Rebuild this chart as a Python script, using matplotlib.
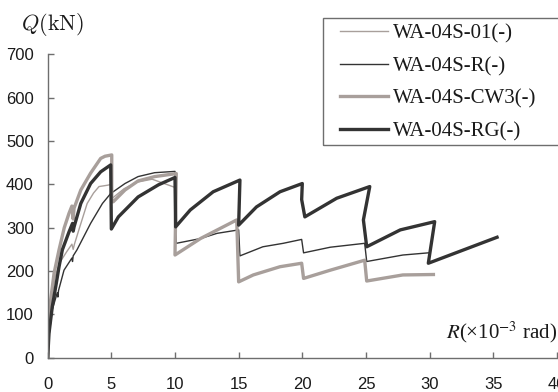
import numpy as np
import matplotlib
matplotlib.use("Agg")
import matplotlib.pyplot as plt
from matplotlib.patches import Rectangle

plt.rcParams["font.family"] = ["Liberation Sans", "DejaVu Sans"]

# story drift angle R (x10^-3 rad) and shear force Q (kN), envelope per cycle
r_01 = [0, 0.1, 0.3, 0.6, 1.0, 1.5, 1.9, 2.0, 2.1, 2.5, 3.1, 3.6, 4.03, 4.68, 5.0,
        5.07, 6.0, 7.0, 8.2, 10.0]
q_01 = [0, 70, 140, 190, 222, 245, 262, 250, 262, 300, 356, 380, 395, 398, 400,
        368, 390, 405, 412, 393]

r_R = [0, 0.1, 0.35, 0.75, 0.8, 0.85, 1.28, 1.9, 1.95, 2.0, 2.3, 3.37, 4.3, 4.95,
       6.07, 7.1, 8.4, 10.0, 10.1, 12.0, 13.3, 15.0, 15.1, 16.9, 18.5, 19.95,
       20.1, 22.2, 24.9, 25.06, 27.9, 29.9]
q_R = [0, 50, 110, 150, 140, 155, 202, 230, 222, 235, 249, 310, 356, 379,
       402, 418, 427, 430, 264, 275, 287, 295, 235, 256, 264, 273,
       242, 255, 264, 222, 237, 242]

r_CW3 = [0, 0.05, 0.23, 0.5, 0.89, 1.3, 1.67, 1.9, 2.0, 2.07, 2.6, 3.37, 4.16,
         4.5, 5.03, 5.03, 5.15, 6.07, 7.1, 8.4, 10.1, 10.0, 12.0, 14.85, 15.0,
         16.15, 18.25, 19.95, 20.1, 22.2, 24.9, 25.06, 27.9, 30.3]
q_CW3 = [0, 50, 133, 195, 249, 300, 333, 350, 320, 345, 387, 426, 460,
         465, 468, 360, 360, 387, 408, 418, 425, 237, 275, 318, 175,
         191, 210, 218, 183, 202, 225, 177, 191, 192]

r_RG = [0, 0.1, 0.36, 0.63, 0.89, 1.15, 1.67, 1.95, 2.0, 2.07, 2.6, 3.37, 4.16,
        4.95, 5.0, 5.55, 7.1, 8.7, 10.0, 10.05, 11.2, 13.0, 15.1, 15.0, 16.4,
        18.25, 20.0, 19.95, 20.2, 22.7, 25.3, 24.8, 25.06, 27.7, 30.4, 29.9, 35.3]
q_RG = [0, 56, 118, 164, 210, 249, 290, 310, 292, 302, 356, 402, 429,
        445, 297, 325, 371, 399, 416, 302, 341, 383, 410, 306, 348,
        383, 402, 365, 325, 368, 395, 318, 256, 295, 314, 218, 278]

labels = ["WA-04S-01(-)", "WA-04S-R(-)", "WA-04S-CW3(-)", "WA-04S-RG(-)"]
light = "#a89f9b"
dark = "#333333"

fig = plt.figure(figsize=(5.58, 3.92), dpi=100)
ax = fig.add_axes([0.0855, 0.0875, 0.9125, 0.7737])

ax.plot(r_01, q_01, color=light, lw=1.0, label=labels[0])
ax.plot(r_R, q_R, color=dark, lw=1.0, label=labels[1])
ax.plot(r_CW3, q_CW3, color=light, lw=2.4, label=labels[2])
ax.plot(r_RG, q_RG, color=dark, lw=2.4, label=labels[3])

ax.set_xlim(0, 40)
ax.set_ylim(0, 700)
ax.set_xticks(np.arange(0, 41, 5))
ax.set_yticks(np.arange(0, 701, 100))
for s in ["top", "right"]:
    ax.spines[s].set_visible(False)
for s in ["left", "bottom"]:
    ax.spines[s].set_color("#6e6e6e")
    ax.spines[s].set_linewidth(1.0)
ax.tick_params(direction="in", length=4, width=1.0, color="#6e6e6e",
               labelsize=12, labelcolor="#1a1a1a")
ax.tick_params(axis="x", pad=14)
ax.tick_params(axis="y", pad=10)

leg = ax.legend(loc="upper left", bbox_to_anchor=(336 / 558, 1 - 20 / 392),
                bbox_transform=fig.transFigure, frameon=False,
                prop={"family": "Liberation Serif", "size": 15},
                handlelength=2.3, handletextpad=0.25, labelspacing=0.62,
                borderaxespad=0, borderpad=0.2)
for t in leg.get_texts():
    t.set_color("#1a1a1a")
fig.patches.append(Rectangle((323 / 558, 1 - 145 / 392), 0.5, 127 / 392,
                             transform=fig.transFigure, fill=False,
                             edgecolor="#6e6e6e", lw=1.0))

fig.text(53 / 558, 1 - 24 / 392, r"$Q(\mathrm{kN})$", math_fontfamily="cm",
         fontsize=16, ha="center", va="center", color="#1a1a1a")
fig.text(557 / 558, 1 - 338 / 392, r"$R$(×10$^{-3}$ rad)",
         family="Liberation Serif", math_fontfamily="stix", fontsize=15,
         ha="right", va="baseline", color="#1a1a1a")

fig.savefig("out.png", dpi=100)
